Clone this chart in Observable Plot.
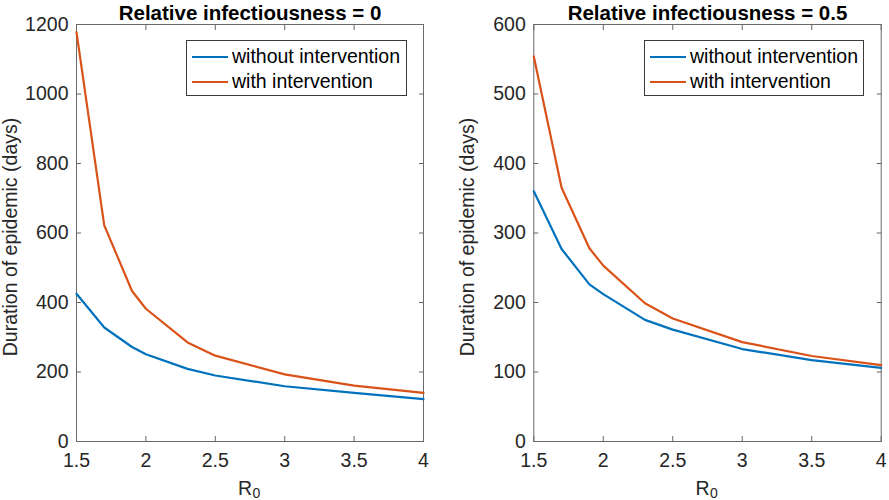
<!DOCTYPE html>
<html><head><meta charset="utf-8">
<script src="https://cdn.jsdelivr.net/npm/d3@7"></script>
<script src="https://cdn.jsdelivr.net/npm/@observablehq/plot@0.6"></script>
<style>
html,body{margin:0;padding:0;background:#fff;}
#wrap{position:relative;width:889px;height:500px;display:flex;overflow:hidden;font-family:"Liberation Sans",Arial,sans-serif;}
#wrap svg{flex:none;}
.legend{position:absolute;border:1px solid #3a3a3a;background:#fff;box-sizing:border-box;font-size:19.5px;color:#000;}
.item{position:absolute;left:0;height:24px;display:flex;align-items:center;white-space:nowrap;}
.swatch{width:36px;height:0;border-top:2.2px solid;margin-left:5px;margin-right:4px;}
</style></head><body><div id="wrap"></div>
<script>
const r0 = [1.5, 1.7, 1.9, 2.0, 2.3, 2.5, 3.0, 3.5, 4.0];
const leftWithout = [425, 328, 272, 251, 209, 190, 159, 140, 122];
const leftWith = [1178, 622, 433, 382, 285, 247, 193, 161, 140];
const rightWithout = [360, 277, 226, 212, 175, 161, 133, 117, 106];
const rightWith = [554, 365, 278, 253, 199, 177, 143, 123, 110];
const xTicks = [1.5, 2, 2.5, 3, 3.5, 4];
const leftYTicks = [0, 200, 400, 600, 800, 1000, 1200];
const rightYTicks = [0, 100, 200, 300, 400, 500, 600];
const seriesNames = ["without intervention", "with intervention"];
const seriesColors = ["#0072BD", "#D95319"];
const titles = ["Relative infectiousness = 0", "Relative infectiousness = 0.5"];
const yLabel = "Duration of epidemic (days)";
const xLabel = "R";
const xLabelSub = "0";

const FONT = "'Liberation Sans', Arial, sans-serif";
const wrap = document.getElementById("wrap");
const fmt = d => String(d);

function panel({width, marginLeft, marginRight, yMax, yTicks, without, withI, title}) {
  const data = [];
  r0.forEach((r, i) => data.push({r, v: without[i], s: seriesNames[0]}));
  r0.forEach((r, i) => data.push({r, v: withI[i], s: seriesNames[1]}));
  return Plot.plot({
    width, height: 500, marginLeft, marginRight, marginTop: 24, marginBottom: 59,
    style: {fontFamily: FONT, fontSize: "19.5px", color: "#262626", background: "transparent", overflow: "visible"},
    x: {domain: [1.5, 4]},
    y: {domain: [0, yMax]},
    color: {domain: seriesNames, range: seriesColors},
    marks: [
      Plot.axisX(xTicks, {anchor: "bottom", tickSize: -5, tickPadding: 17, tickFormat: fmt, label: null, stroke: "#666"}),
      Plot.axisX(xTicks, {anchor: "top", tickSize: -5, tickFormat: () => "", label: null, stroke: "#666"}),
      Plot.axisY(yTicks, {anchor: "left", tickSize: -5, tickPadding: 13, tickFormat: fmt, label: null, stroke: "#666"}),
      Plot.axisY(yTicks, {anchor: "right", tickSize: -5, tickFormat: () => "", label: null, stroke: "#666"}),
      Plot.frame({stroke: "#6a6a6a", strokeWidth: 1}),
      Plot.line(data, {x: "r", y: "v", z: "s", stroke: "s", strokeWidth: 2.2}),
      Plot.text([title], {frameAnchor: "top", dy: -11.5, lineAnchor: "middle", fontWeight: "bold", fontSize: 20.5, fill: "#000"}),
      Plot.text([yLabel], {frameAnchor: "left", rotate: -90, dx: -66, dy: 4, textAnchor: "middle", lineAnchor: "middle", fill: "#262626"}),
      Plot.text([xLabel], {frameAnchor: "bottom", dy: 47, dx: 2, textAnchor: "end", lineAnchor: "middle", fill: "#262626"}),
      Plot.text([xLabelSub], {frameAnchor: "bottom", dy: 52, dx: 2.5, textAnchor: "start", lineAnchor: "middle", fontSize: 14, fill: "#262626"})
    ]
  });
}

wrap.appendChild(panel({width: 445, marginLeft: 76, marginRight: 22, yMax: 1200, yTicks: leftYTicks, without: leftWithout, withI: leftWith, title: titles[0]}));
wrap.appendChild(panel({width: 444, marginLeft: 88.3, marginRight: 8.3, yMax: 600, yTicks: rightYTicks, without: rightWithout, withI: rightWith, title: titles[1]}));

function legend(left, top, width) {
  const box = document.createElement("div");
  box.className = "legend";
  Object.assign(box.style, {left: left + "px", top: top + "px", width: width + "px", height: "56px"});
  seriesNames.forEach((name, i) => {
    const it = document.createElement("div");
    it.className = "item";
    it.style.top = (3.5 + i * 25.2) + "px";
    const sw = document.createElement("div");
    sw.className = "swatch";
    sw.style.borderTopColor = seriesColors[i];
    const tx = document.createElement("span");
    tx.textContent = name;
    it.appendChild(sw); it.appendChild(tx);
    box.appendChild(it);
  });
  wrap.appendChild(box);
}
legend(186, 40, 221);
legend(644, 40, 220);
</script></body></html>
